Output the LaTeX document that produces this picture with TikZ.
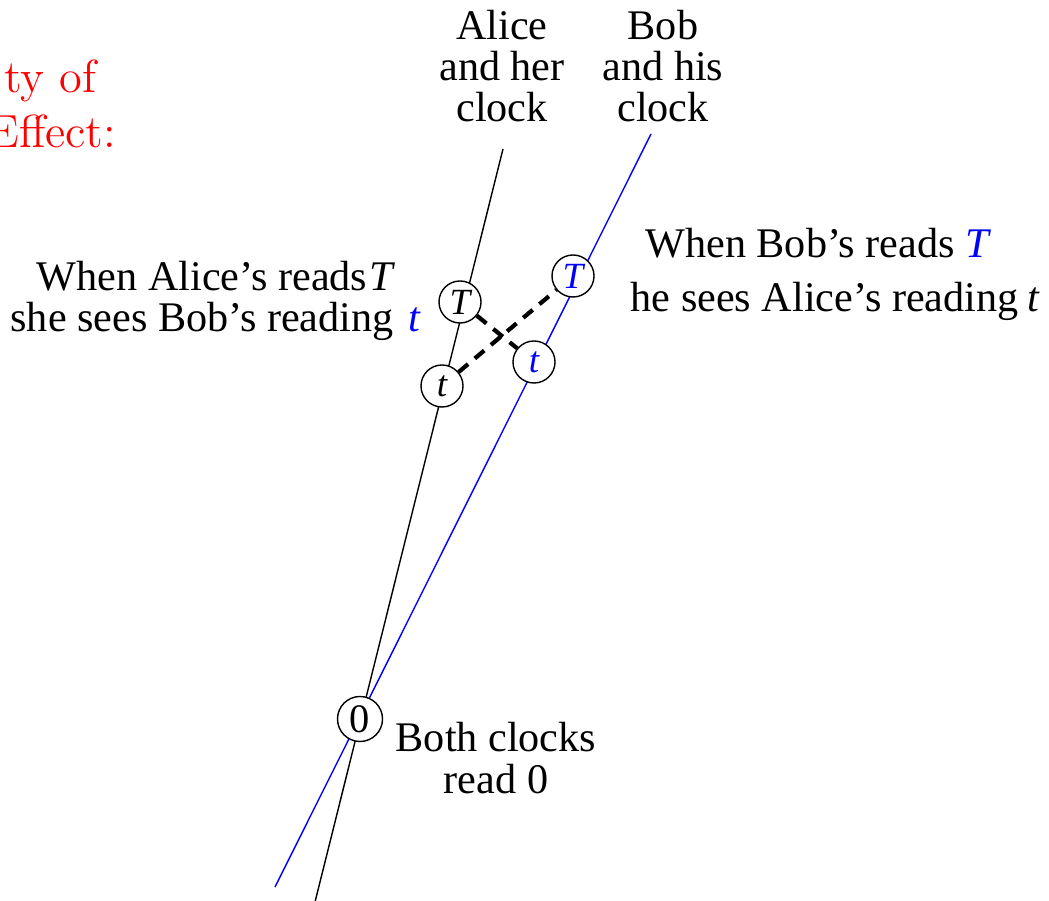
\documentclass[tikz,border=0pt]{standalone}
\usepackage{fontspec}
\setmainfont{Liberation Serif}[Ligatures=TeX]
\newfontfamily\lmfont{Latin Modern Roman}
\usepackage{tikz}

\begin{document}
\begin{tikzpicture}[
    x=0.01cm, y=-0.01cm,
    clock/.style={draw, circle, fill=white, minimum size=0.42cm, inner sep=0pt, font=\fontsize{10.5}{12}\selectfont\itshape},
    txt/.style={align=center, inner sep=0pt, font=\fontsize{12}{11.7}\selectfont},
    signal/.style={line width=1.2pt, dash pattern=on 3.5pt off 2.5pt},
    heading/.style={font=\lmfont\fontsize{13.2}{16}\selectfont, text=red, inner sep=0pt}
]
    \useasboundingbox (0,0) rectangle (1049,901);

    % --- World lines ---
    \coordinate (alicetop) at (503,149);
    \coordinate (alicebot) at (315,902);
    \coordinate (bobtop) at (651,134);
    \coordinate (bobbot) at (275,887);
    \draw (alicebot) -- (alicetop);
    \draw[blue] (bobbot) -- (bobtop);

    % --- Clock readings ---
    \node[clock] (aliceT) at (460,302) {T};
    \node[clock] (alicet) at (442,386) {t};
    \node[clock, text=blue] (bobT) at (573,276) {T};
    \node[clock, text=blue] (bobt) at (534,362) {t};
    \node[clock, font=\fontsize{11.5}{13}\selectfont, minimum size=0.45cm] (zero) at (360,719) {0};

    % --- Light signals ---
    \draw[signal] (aliceT) -- (bobt);
    \draw[signal] (alicet) -- (bobT);

    % --- Labels ---
    \node[txt, anchor=base] (alicelbl) at (502,122) {Alice\\and her\\clock};
    \node[txt, anchor=base] (boblbl) at (663,122) {Bob\\and his\\clock};
    \node[txt, anchor=base] (alicesees) at (216,332) {When Alice’s reads\hspace{0.5pt}\textit{T}\\she sees Bob’s reading\hspace{4.3pt}\textcolor{blue}{\textit{t}}};
    \node[txt, align=left, anchor=base west] (bobsees) at (630,312) {\hspace{4.2pt}When Bob’s reads\hspace{3pt}\textcolor{blue}{\textit{T}}\\[3.7pt]he sees Alice’s reading\hspace{2.5pt}\textit{t}};
    \node[txt, anchor=base] (bothlbl) at (496,793) {Both clocks\\read 0};

    % --- Heading (cut at the left edge) ---
    \node[heading, anchor=base east] (head1) at (97,93) {ty of};
    \node[heading, anchor=base east] (head2) at (117,148) {Effect:};

\end{tikzpicture}
\end{document}
